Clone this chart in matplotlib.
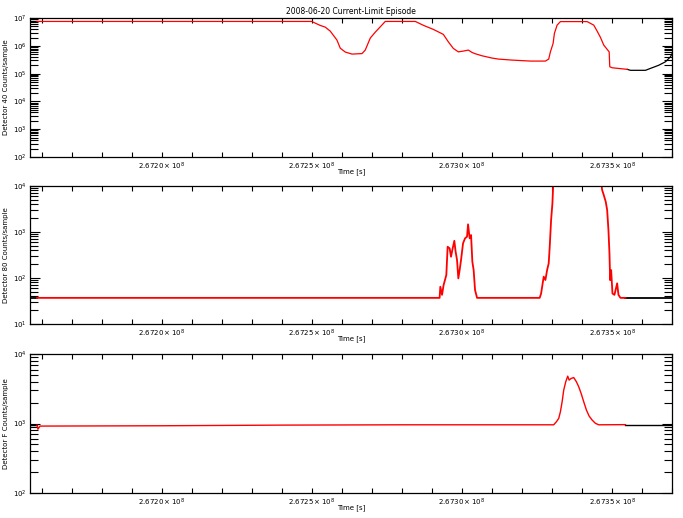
import matplotlib
matplotlib.use("Agg")
import matplotlib.pyplot as plt
import numpy as np
from matplotlib.ticker import FixedLocator, LogLocator, NullFormatter

T0 = 267200000

# ---- Panel 1 : Detector 40 ----
t1 = [-4400, -4150, 5000, 5117, 5283, 5450, 5617, 5717, 5840, 5950, 6117, 6340, 6673, 6783,
      6950, 7117, 7283, 7450, 8450, 8727, 9050, 9383, 9550, 9717, 9883, 10050, 10217,
      10340, 10450, 10673, 11007, 11217, 11673, 12283, 12783, 12893, 12950, 13040,
      13083, 13173, 13283, 14173, 14393, 14507, 14617, 14727, 14840, 14907, 14927,
      15007, 15507, 15617, 16117, 16283, 16550, 16783, 16950, 17007]
v1 = [7.6e6, 7.6e6, 7.6e6, 6.6e6, 5.46e6, 4.74e6, 3.4e6, 2.44e6, 1.62e6, 8.3e5, 6.0e5, 5.07e5,
      5.28e5, 7.06e5, 1.91e6, 3.13e6, 4.86e6, 7.6e6, 7.6e6, 5.46e6, 3.93e6, 2.6e6,
      1.4e6, 8.1e5, 6.1e5, 6.5e5, 7.06e5, 5.8e5, 5.2e5, 4.4e5, 3.64e5, 3.35e5, 3.08e5,
      2.84e5, 2.84e5, 3.35e5, 6.1e5, 1.23e6, 2.82e6, 5.6e6, 7.5e6, 7.5e6, 5.6e6, 3.4e6,
      2.02e6, 1.07e6, 7.5e5, 6.1e5, 1.77e5, 1.63e5, 1.43e5, 1.32e5, 1.32e5, 1.55e5,
      1.99e5, 2.68e5, 4.06e5, 5.37e5]

# ---- Panel 2 : Detector 80 ----
t2 = [-4400, -4150, 0, 4000, 9260, 9283, 9340, 9393, 9483, 9527, 9593, 9640, 9683, 9750,
      9793, 9840, 9883, 9927, 9973, 10040, 10107, 10173, 10207, 10260, 10307, 10350,
      10393, 10440, 10507, 12593, 12640, 12727, 12783, 12840, 12893, 12927, 12973,
      13017, 13060, 13200, 14500, 14640, 14673, 14727, 14793, 14840, 14883, 14917,
      14940, 14973, 15017, 15083, 15173, 15217, 15283, 15450, 17000]
v2 = [37, 37, 37, 37, 37, 64.7, 43, 70.5, 116, 478, 442, 290, 406, 645, 373, 246, 98,
      149, 246, 568, 730, 793, 1470, 730, 860, 226, 149, 54.8, 37, 37, 46, 107, 90.6,
      149, 208, 478, 1825, 4200, 2.0e4, 5.0e4, 5.0e4, 1.2e4, 8180, 6370, 4560, 3000,
      1100, 344, 90, 149, 46, 43, 76.7, 43, 37, 37, 37]

# ---- Panel 3 : Detector F ----
t3 = [-4400, -4150, -4120, -4050, 0, 4007, 8000, 13060, 13150, 13227, 13283, 13340,
      13393, 13460, 13527, 13573, 13640, 13727, 13817, 13893, 13973, 14060, 14150,
      14240, 14340, 14450, 14560, 15450, 17000]
v3 = [950, 950, 830, 920, 930, 950, 960, 960, 1062, 1188, 1480, 2060, 3030, 3990, 4820,
      4230, 4470, 4600, 3990, 3390, 2720, 2060, 1563, 1282, 1122, 1007, 960, 965, 965]

red_ranges = [(-4150, 15507), (-4150, 15450), (-4150, 15450)]

xtick_major = [0, 5000, 10000, 15000]
xtick_labels = [r"$2.6720\times10^{8}$", r"$2.6725\times10^{8}$",
                r"$2.6730\times10^{8}$", r"$2.6735\times10^{8}$"]

panels = [
    (t1, v1, (1e2, 1e7), "Detector 40 Counts/sample", [0.0432, 0.697, 0.9407, 0.268], 0.9),
    (t2, v2, (1e1, 1e4), "Detector 80 Counts/sample", [0.0432, 0.3745, 0.9407, 0.2664], 1.3),
    (t3, v3, (1e2, 1e4), "Detector F Counts/sample", [0.0432, 0.0483, 0.9407, 0.268], 1.0),
]

fig = plt.figure(figsize=(6.83, 5.18), dpi=100)
for i, (t, v, ylim, ylab, pos, lw) in enumerate(panels):
    ax = fig.add_axes(pos)
    t = np.array(t, dtype=float)
    v = np.array(v, dtype=float)
    rs, re = red_ranges[i]
    pre = t <= rs
    mid = (t >= rs) & (t <= re)
    post = t >= re
    ax.plot(T0 + t[pre], v[pre], color="black", lw=lw)
    ax.plot(T0 + t[post], v[post], color="black", lw=lw)
    ax.plot(T0 + t[mid], v[mid], color="red", lw=lw)
    ax.set_yscale("log")
    ax.set_ylim(*ylim)
    ax.set_xlim(T0 - 4400, T0 + 17000)
    ax.xaxis.set_major_locator(FixedLocator([T0 + x for x in xtick_major]))
    ax.set_xticklabels(xtick_labels)
    ax.xaxis.set_minor_locator(FixedLocator([T0 + x for x in range(-4000, 17001, 1000)]))
    ax.yaxis.set_major_locator(LogLocator(base=10, numticks=10))
    ax.yaxis.set_minor_locator(LogLocator(base=10, subs=np.arange(2, 10), numticks=20))
    ax.yaxis.set_minor_formatter(NullFormatter())
    ax.tick_params(axis="both", which="both", direction="in", top=True, right=True,
                   labelsize=5, width=0.8)
    ax.tick_params(axis="x", which="both", length=3.5, pad=3)
    ax.tick_params(axis="y", which="major", length=7, pad=2)
    ax.tick_params(axis="y", which="minor", length=5.5)
    ax.set_xlabel("Time [s]", fontsize=5)
    ax.xaxis.set_label_coords(0.5, -0.08)
    ax.set_ylabel(ylab, fontsize=5, labelpad=3)
    for s in ax.spines.values():
        s.set_linewidth(0.9)
    if i == 0:
        ax.set_title("2008-06-20 Current-Limit Episode", fontsize=5.5, pad=3)

fig.savefig("out.png", dpi=100)
